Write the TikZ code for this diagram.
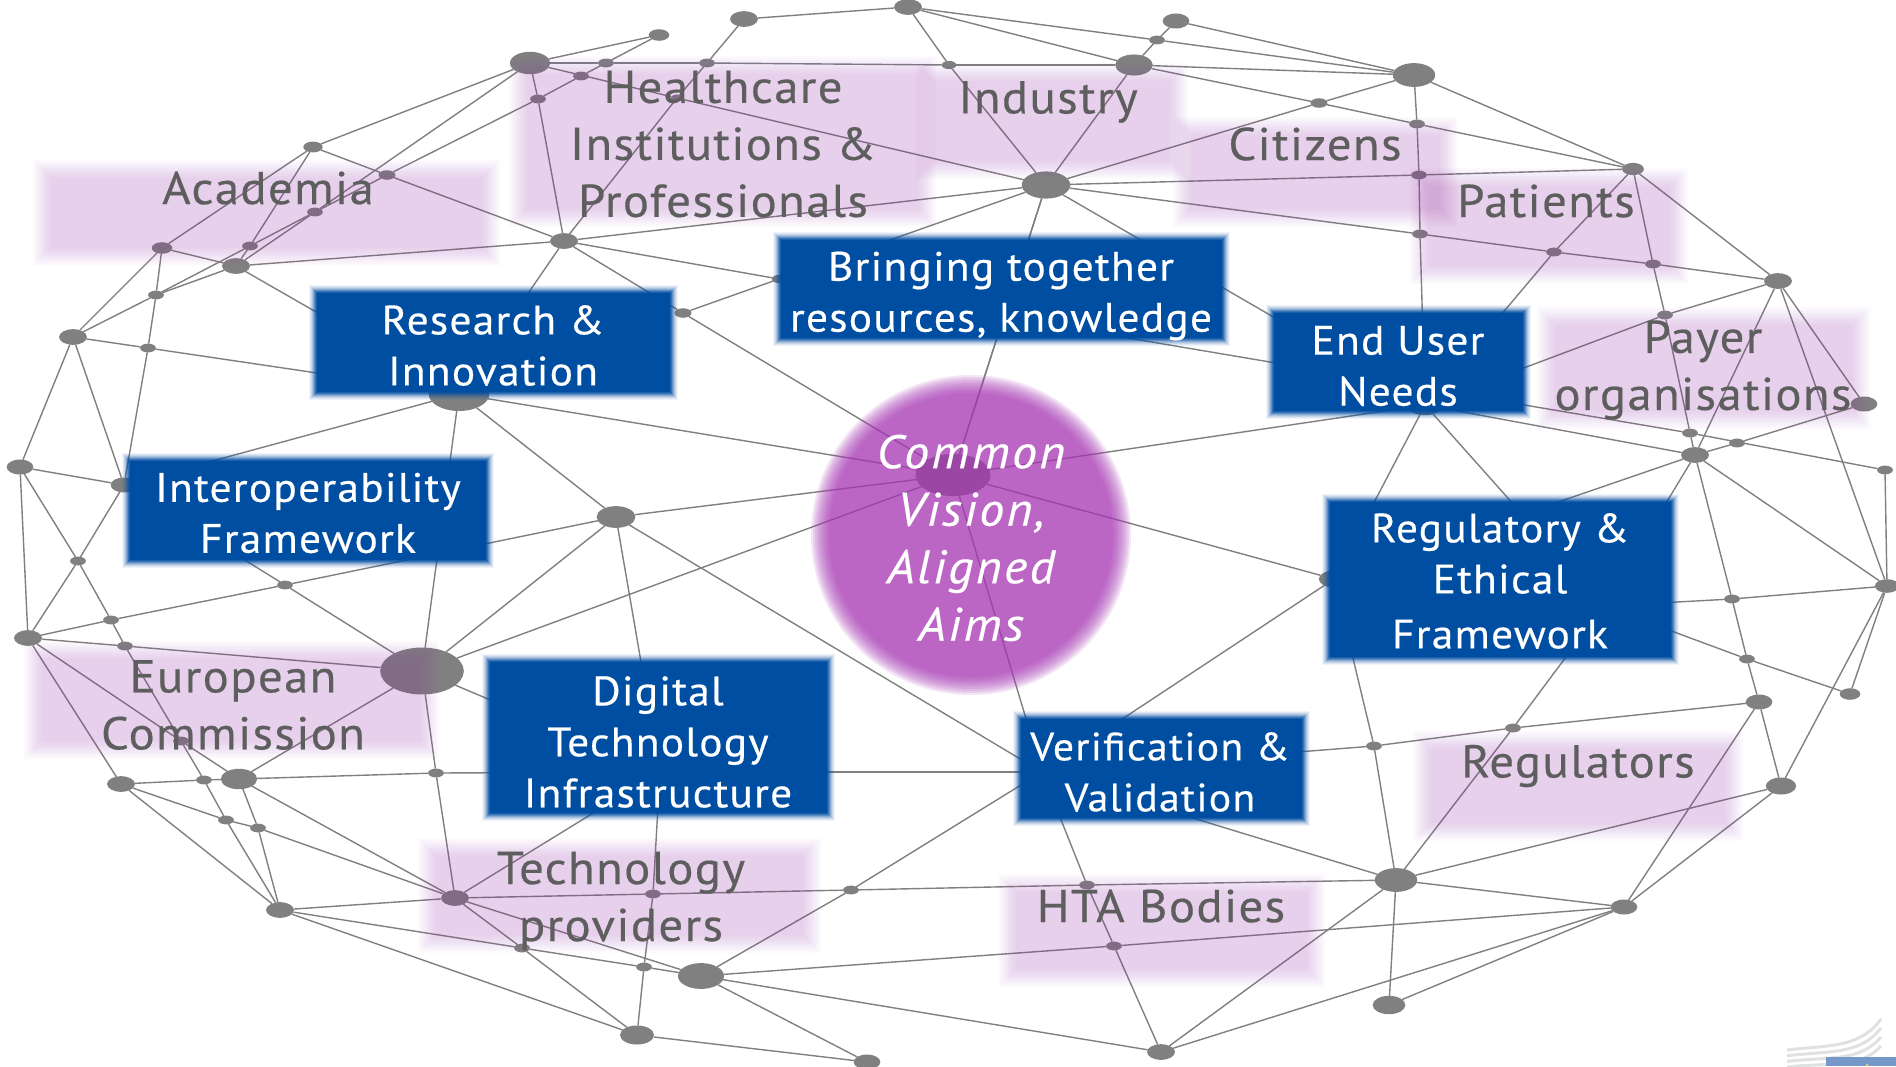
\documentclass[tikz,border=0pt]{standalone}
\usepackage{fontspec}
\setmainfont{PT Sans}[FakeStretch=1.06,LetterSpace=3,FakeBold=0.4]
\newfontfamily\hubfont{PT Sans Italic}[FakeStretch=1.06,LetterSpace=5,FakeBold=0.4]
\usetikzlibrary{shapes.geometric}
\definecolor{netgray}{RGB}{128,128,128}
\definecolor{tint}{RGB}{156,52,174}
\definecolor{hubpurple}{RGB}{168,55,182}
\definecolor{boxblue}{RGB}{0,78,162}
\definecolor{labelgray}{RGB}{94,94,94}
\definecolor{logoblue}{RGB}{118,152,200}
\definecolor{logogray}{RGB}{224,226,226}
\definecolor{logostar}{RGB}{240,220,110}
\tikzset{
 netdot/.style={ellipse,fill=netgray,inner sep=0pt,outer sep=0pt},
 netline/.style={draw=netgray,line width=1.4pt},
 softpink/.style={fill=tint,fill opacity=0.0235},
 softhub/.style={fill=hubpurple,fill opacity=0.13},
 pinklabel/.style={text=labelgray,align=center,inner sep=0pt,font=\fontsize{46}{57}\selectfont},
 bluefill/.style={fill=boxblue,inner sep=0pt},
 bluetext/.style={text=white,align=center,inner sep=0pt,font=\fontsize{41}{51}\selectfont},
 hublabel/.style={text=white,align=center,inner sep=0pt,font=\hubfont\fontsize{47}{57.5}\selectfont},
}
\newcommand{\softrect}[4]{\foreach \d in {9,7,5,3,1,-1,-3,-5,-7,-9}{\fill[softpink] (#1-\d,#2-\d) rectangle (#3+\d,#4+\d);}}
\newcommand{\softbox}[4]{\foreach \d/\o in {6/.06,5/.08,4/.1,3/.14,2/.2,1/.3,0/.4,-1/.5}{\fill[boxblue,fill opacity=\o] (#1-\d,#2-\d) rectangle (#3+\d,#4+\d);}}
\begin{document}
\begin{tikzpicture}[x=1pt,y=-1pt]
\useasboundingbox (0,0) rectangle (1896,1066);
\fill[white] (0,0) rectangle (1896,1066);
% network nodes: name/x/y/size
\foreach \n/\x/\y/\r in {
a/659/35/17,b/530/63/33,c/744/19/23,d/908/7/23,e/606/63/13,f/707/63/13,g/949/65/12,h/581/76/13,i/538/99/13,j/677/98/10,
k/564/241/23,l/313/147/16,m/387/175/14,n/315/212/13,o/162/248/17,p/250/246/13,q/236/266/23,r/156/295/13,s/73/337/23,t/148/348/13,
u/683/313/14,v/779/279/12,w/459/394/50,x/20/467/22,y/124/485/22,z/616/517/32,hub/953/475/62,
aa/1176/21/22,ab/1157/40/13,ac/1134/65/31,ad/1414/75/35,ae/1319/103/14,af/1417/124/13,ag/1046/185/40,ah/1633/169/18,ai/1419/175/13,aj/1420/234/13,
ak/1554/252/13,al/1653/264/13,am/1778/281/23,an/1665/315/13,ao/1864/404/22,ap/1425/405/30,aq/1690/433/13,ar/1737/443/13,as/1695/455/23,at/1885/470/13,
ba/1732/599/13,bb/1747/659/13,bc/1759/702/22,bi/1850/694/17,bh/1887/586/20,bd/1374/746/13,bf/1513/728/13,be/1396/880/35,bj/1781/786/25,bk/1624/907/22,
bl/1389/1005/27,bm/1161/1052/23,bn/1114/946/13,bo/1087/885/13,regn/1334/579/25,
ca/78/561/13,cb/111/620/13,cc/28/638/23,cd/125/646/13,ce/285/585/13,cf/422/671/69,cg/181/741/13,ch/121/784/23,ci/204/780/13,cj/239/779/30,
ck/436/773/13,cl/226/820/13,cm/258/828/13,cn/280/910/23,co/455/898/23,cp/653/894/13,cq/851/890/13,cr/522/948/13,cs/644/967/13,ct/701/976/38,cu/637/1035/28,cv/867/1062/22}
{\node[netdot,minimum width={\r*1.212},minimum height={\r*0.68}] (\n) at (\x,\y) {};}
\coordinate (vv) at (1042,772);
\coordinate (d1) at (660,772);
\coordinate (hh) at (1604,606);
% connectors
\foreach \s/\t in {
b/a,b/e,e/f,f/g,g/ac,b/l,b/n,n/q,b/i,b/j,j/ag,f/j,j/k,i/k,a/h,h/i,i/m,s/r,r/p,p/n,n/m,r/q,
s/o,o/r,r/t,t/y,s/t,t/w,o/q,o/l,p/l,q/p,l/m,m/k,k/q,k/u,u/hub,k/v,u/v,k/w,q/w,w/hub,w/z,w/y,w/cf,k/ag,
s/x,s/y,x/y,x/cc,x/ca,y/ca,ca/cc,ca/cb,cb/cd,cd/cg,cg/ci,ci/cl,cl/cn,cc/cb,cb/ce,ce/z,y/ce,ce/cf,cc/cd,cd/cf,cc/cg,cg/cj,cc/ch,cf/cj,cf/ck,ck/co,cf/z,cf/hub,z/hub,z/d1,cf/d1,d1/cp,cp/cs,cs/cu,d1/co,ck/d1,d1/vv,z/vv,
ch/ci,ci/cj,cj/ck,ch/cl,cl/cm,cm/co,ch/cn,cj/cm,cm/cn,cj/co,cn/co,cn/cr,cr/cs,cs/ct,cn/cu,co/cr,cr/cu,co/ct,co/cp,cp/cq,cq/bo,bo/be,ct/cq,cq/vv,ct/bn,bn/bk,ct/bm,ct/cv,cu/cv,
hub/vv,vv/bo,bo/bn,bn/bm,vv/regn,vv/be,vv/bd,bd/bf,bf/bc,regn/bd,bd/be,be/bm,be/bl,be/bk,be/bj,be/bf,hh/bf,hh/ba,hh/bb,ba/bh,bb/bi,as/ba,ba/bb,bb/bc,bc/bk,bc/bj,bk/bj,bm/bk,bl/bk,bj/bh,bi/bh,as/bh,at/bh,am/bh,as/regn,as/hh,ap/hh,ap/regn,ap/as,hub/regn,hub/ap,hub/ag,
c/f,c/d,d/g,d/ab,ab/ad,d/ac,aa/ab,ab/ac,aa/ad,ac/ad,g/ag,ac/ag,ag/ae,ae/ad,ac/ae,ae/af,af/ah,ad/af,ad/ah,af/ai,ai/aj,aj/ap,ag/ai,ai/ah,ag/aj,aj/ak,ak/al,al/am,ah/ak,ak/ap,ah/al,al/an,an/aq,aq/as,ah/am,am/an,an/ap,am/ao,am/as,ao/ar,ar/as,v/aq,aq/at,ag/v,ag/ap,ag/hub}
{\draw[netline] (\s) -- (\t);}
% central circle
\foreach \d in {9,7,5,3,1,-1,-3,-5,-7,-9}{\fill[softhub] (971,535) ellipse ({151+\d} and {151+\d});}
% tinted areas
\softrect{42}{169}{491}{257}
\softrect{518}{65}{927}{218}
\softrect{925}{72}{1179}{170}
\softrect{1182}{126}{1449}{218}
\softrect{1419}{177}{1679}{275}
\softrect{1546}{316}{1861}{420}
\softrect{1422}{740}{1734}{832}
\softrect{1007}{883}{1316}{978}
\softrect{427}{847}{812}{944}
\softrect{33}{650}{430}{750}
% blue box fades
\softbox{315}{291}{672}{394}
\softbox{779}{238}{1224}{340}
\softbox{1272}{311}{1525}{413}
\softbox{128}{459}{488}{562}
\softbox{488}{660}{829}{815}
\softbox{1019}{717}{1304}{820}
\softbox{1328}{500}{1673}{659}
% blue boxes
\node[bluefill,minimum width=353,minimum height=99] (researchbox) at (493.5,342.5) {};
\node[bluefill,minimum width=441,minimum height=98] (bringingbox) at (1001.5,289) {};
\node[bluefill,minimum width=249,minimum height=98] (enduserbox) at (1398.5,362) {};
\node[bluefill,minimum width=356,minimum height=99] (interopbox) at (308,510.5) {};
\node[bluefill,minimum width=337,minimum height=151] (digitalbox) at (658.5,737.5) {};
\node[bluefill,minimum width=281,minimum height=99] (verifbox) at (1161.5,768.5) {};
\node[bluefill,minimum width=341,minimum height=155] (regulbox) at (1500.5,579.5) {};
\node[bluetext] (research) at (493,345.5) {Research \&\\Innovation};
\node[bluetext] (bringing) at (1001,296) {Bringing together\\resources, knowledge};
\node[bluetext] (enduser) at (1398,366) {End User\\Needs};
\node[bluetext] (interop) at (308,513) {Interoperability\\Framework};
\node[bluetext] (digital) at (658,742) {Digital\\Technology\\Infrastructure};
\node[bluetext,font=\fontsize{39.5}{51}\selectfont] (verif) at (1160,772) {Verification \&\\Validation};
\node[bluetext] (regul) at (1500,581) {Regulatory \&\\Ethical\\[4pt]Framework};
% labels
\node[pinklabel] (academia) at (268,188) {Academia};
\node[pinklabel] (health) at (723,144) {Healthcare\\Institutions \&\\Professionals};
\node[pinklabel] (industry) at (1048,102) {Industry};
\node[pinklabel] (citizens) at (1315,144) {Citizens};
\node[pinklabel] (patients) at (1546,201) {Patients};
\node[pinklabel] (payer) at (1703,370) {Payer\\organisations};
\node[pinklabel] (regulators) at (1578,766) {Regulators};
\node[pinklabel] (hta) at (1161,906) {HTA Bodies};
\node[pinklabel] (techprov) at (621,901) {Technology\\providers};
\node[pinklabel] (europe) at (233,705) {European\\Commission};
\node[hublabel] (vision) at (971,538) {Common\\Vision,\\Aligned\\Aims};
% logo corner
\foreach \i in {0,1,2,3}{\draw[logogray,line width=3pt] (1787,1050+5.7*\i) .. controls (1830,1045+5.7*\i) and (1860,1048+7*\i) .. (1881,1019+9*\i);}
\fill[logoblue] (1826,1057) rectangle (1896,1066);
\fill[logostar] (1867,1063.5) -- (1865.5,1066) -- (1868.5,1066) -- cycle;
\end{tikzpicture}
\end{document}
